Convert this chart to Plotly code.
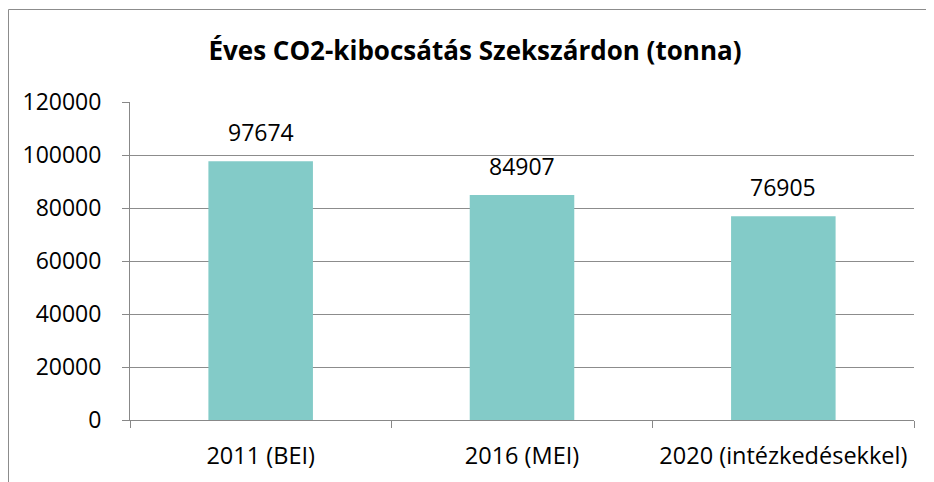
import plotly.graph_objects as go

categories = ["2011 (BEI)", "2016 (MEI)", "2020 (intézkedésekkel)"]
values = [97674, 84907, 76905]
y_ticks = [0, 20000, 40000, 60000, 80000, 100000, 120000]
title_text = "Éves CO2-kibocsátás Szekszárdon (tonna)"

FONT = "Open Sans, Carlito, Calibri, sans-serif"
OFF = 8  # page body margin
W, H = 934 - OFF, 482 - OFF
L, R, T, B = 130 - OFF, 20, 102 - OFF, 62
pw = W - L - R
ph = H - T - B

fig = go.Figure(go.Bar(
    x=categories, y=values, width=0.4,
    marker=dict(color="#83CBC8", line=dict(width=0)),
    hoverinfo="x+y",
))

for c, v in zip(categories, values):
    fig.add_annotation(x=c, y=v, xref="x", yref="y", text=str(v),
                       showarrow=False, yanchor="bottom", yshift=11,
                       font=dict(size=23, family=FONT, color="#000000"))

fig.update_layout(
    width=W, height=H,
    margin=dict(l=L, r=R, t=T, b=B, autoexpand=False),
    paper_bgcolor="white", plot_bgcolor="white",
    font=dict(family=FONT, color="#000000", size=23),
    title=dict(text="<b>" + title_text + "</b>", xref="container",
               x=(475 - OFF) / W, xanchor="center",
               yref="container", y=1 - (51 - OFF) / H, yanchor="middle",
               font=dict(size=26, family=FONT, color="#000000")),
    showlegend=False,
    xaxis=dict(showline=True, linecolor="#888888", linewidth=1,
               ticks="outside", ticklen=7, tickcolor="#888888",
               tickson="boundaries", showgrid=False,
               ticklabelstandoff=15,
               tickfont=dict(size=23.5, family=FONT)),
    yaxis=dict(range=[0, 120000], tickvals=y_ticks,
               ticktext=[str(v) for v in y_ticks],
               showline=True, linecolor="#888888", linewidth=1,
               ticks="outside", ticklen=7, tickcolor="#888888",
               showgrid=True, gridcolor="#8C8C8C", gridwidth=1,
               zeroline=False, ticklabelstandoff=16,
               tickfont=dict(size=23, family=FONT)),
    shapes=[dict(type="rect", xref="paper", yref="paper",
                 x0=(0.5 - L) / pw, x1=(W + 20 - L) / pw,
                 y0=(H - B - (H + 20)) / ph, y1=(H - B - 1.5) / ph,
                 line=dict(color="#8C8C8C", width=1), layer="below")],
)

fig.write_html("out.html")
